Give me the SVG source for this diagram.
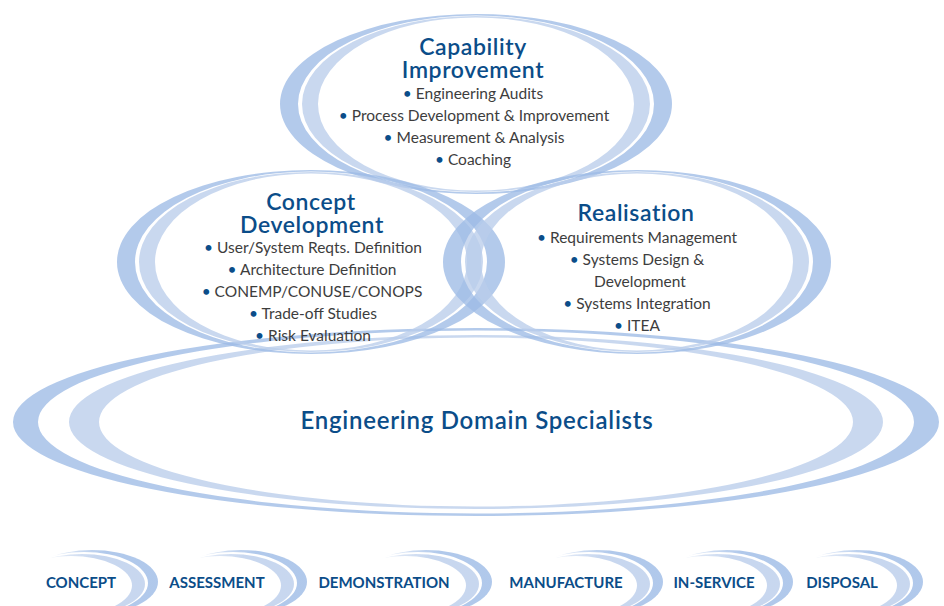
<svg xmlns="http://www.w3.org/2000/svg" width="944" height="606" viewBox="0 0 944 606">
<style>
.dark{fill:#9dbbe6;fill-opacity:0.78;fill-rule:evenodd}
.light{fill:#bacdeb;fill-opacity:0.78;fill-rule:evenodd}
.title{font-family:Lato,"Liberation Sans",sans-serif;font-weight:600;font-size:23px;letter-spacing:0.6px;fill:#0b4d89;text-anchor:middle}
.item{font-family:Lato,"Liberation Sans",sans-serif;font-size:15.5px;fill:#3d3d3d;text-anchor:middle}
.b{fill:#0b4d89}
.eds{font-family:Lato,"Liberation Sans",sans-serif;font-weight:600;font-size:24px;letter-spacing:0.75px;fill:#0b4d89;text-anchor:middle}
.phase{font-family:Lato,"Liberation Sans",sans-serif;font-weight:700;font-size:15px;fill:#0b4d89;text-anchor:middle}
</style>
<defs>
<linearGradient id="gD" x1="0" y1="0" x2="1" y2="0">
<stop offset="0" stop-color="#9dbbe6" stop-opacity="0"/>
<stop offset="0.6" stop-color="#9dbbe6" stop-opacity="0.8"/>
<stop offset="1" stop-color="#9dbbe6" stop-opacity="0.8"/>
</linearGradient>
<linearGradient id="gL" x1="0" y1="0" x2="1" y2="0">
<stop offset="0" stop-color="#bacdeb" stop-opacity="0"/>
<stop offset="0.6" stop-color="#bacdeb" stop-opacity="0.8"/>
<stop offset="1" stop-color="#bacdeb" stop-opacity="0.8"/>
</linearGradient>
<mask id="mD" maskUnits="userSpaceOnUse" x="-220" y="500" width="300" height="150">
<rect x="-220" y="500" width="300" height="150" fill="#fff"/>
<ellipse cx="-74" cy="583" rx="64" ry="31" fill="#000"/>
</mask>
<mask id="mL" maskUnits="userSpaceOnUse" x="-220" y="500" width="300" height="150">
<rect x="-220" y="500" width="300" height="150" fill="#fff"/>
<ellipse cx="-87" cy="585.5" rx="61" ry="29.5" fill="#000"/>
</mask>
<g id="arc">
<ellipse cx="-66" cy="582" rx="66" ry="32" fill="url(#gD)" mask="url(#mD)"/>
<ellipse cx="-76" cy="584" rx="63" ry="30" fill="url(#gL)" mask="url(#mL)"/>
</g>
</defs>
<rect width="944" height="606" fill="#fff"/>

<g id="rings">
<!-- Engineering Domain Specialists -->
<path class="dark" d="M13,422 a463,94 0 1,0 926,0 a463,94 0 1,0 -926,0 Z M38,422 a438,91.5 0 1,0 876,0 a438,91.5 0 1,0 -876,0 Z"/>
<path class="light" d="M69,422 a407,87 0 1,0 814,0 a407,87 0 1,0 -814,0 Z M99,422 a377,84.5 0 1,0 754,0 a377,84.5 0 1,0 -754,0 Z"/>
<!-- Capability -->
<path class="dark" d="M280,104 a196,90 0 1,0 392,0 a196,90 0 1,0 -392,0 Z M298,104 a178,88.5 0 1,0 356,0 a178,88.5 0 1,0 -356,0 Z"/>
<path class="light" d="M302,104 a174,88 0 1,0 348,0 a174,88 0 1,0 -348,0 Z M318,104 a158,86.5 0 1,0 316,0 a158,86.5 0 1,0 -316,0 Z"/>
<!-- Concept -->
<path class="dark" d="M117,262 a194,92 0 1,0 388,0 a194,92 0 1,0 -388,0 Z M135,262 a176,90.5 0 1,0 352,0 a176,90.5 0 1,0 -352,0 Z"/>
<path class="light" d="M139,262 a172,90 0 1,0 344,0 a172,90 0 1,0 -344,0 Z M155,262 a156,88.5 0 1,0 312,0 a156,88.5 0 1,0 -312,0 Z"/>
<!-- Realisation -->
<path class="dark" d="M443,262 a194,92 0 1,0 388,0 a194,92 0 1,0 -388,0 Z M461,262 a176,90.5 0 1,0 352,0 a176,90.5 0 1,0 -352,0 Z"/>
<path class="light" d="M465,262 a172,90 0 1,0 344,0 a172,90 0 1,0 -344,0 Z M481,262 a156,88.5 0 1,0 312,0 a156,88.5 0 1,0 -312,0 Z"/>
</g>

<g id="node-capability">
<text class="title" x="473" y="55">Capability</text>
<text class="title" x="473" y="78">Improvement</text>
<text class="item" x="473" y="99"><tspan class="b">•</tspan> Engineering Audits</text>
<text class="item" x="474" y="121"><tspan class="b">•</tspan> Process Development &amp; Improvement</text>
<text class="item" x="474" y="143"><tspan class="b">•</tspan> Measurement &amp; Analysis</text>
<text class="item" x="473" y="165"><tspan class="b">•</tspan> Coaching</text>
</g>

<g id="node-concept">
<text class="title" x="311" y="210">Concept</text>
<text class="title" x="312" y="233">Development</text>
<text class="item" x="313" y="253"><tspan class="b">•</tspan> User/System Reqts. Definition</text>
<text class="item" x="312" y="275"><tspan class="b">•</tspan> Architecture Definition</text>
<text class="item" x="312" y="297"><tspan class="b">•</tspan> CONEMP/CONUSE/CONOPS</text>
<text class="item" x="313" y="319"><tspan class="b">•</tspan> Trade-off Studies</text>
<text class="item" x="313" y="341"><tspan class="b">•</tspan> Risk Evaluation</text>
</g>

<g id="node-realisation">
<text class="title" x="636" y="221">Realisation</text>
<text class="item" x="637" y="243"><tspan class="b">•</tspan> Requirements Management</text>
<text class="item" x="637" y="265"><tspan class="b">•</tspan> Systems Design &amp;</text>
<text class="item" x="640" y="287">Development</text>
<text class="item" x="637" y="309"><tspan class="b">•</tspan> Systems Integration</text>
<text class="item" x="637" y="331"><tspan class="b">•</tspan> ITEA</text>
</g>

<g id="node-eds">
<text class="eds" x="477" y="429">Engineering Domain Specialists</text>
</g>

<g id="phase-concept"><use href="#arc" x="158"/><text class="phase" x="81" y="588">CONCEPT</text></g>
<g id="phase-assessment"><use href="#arc" x="307"/><text class="phase" x="217" y="588">ASSESSMENT</text></g>
<g id="phase-demonstration"><use href="#arc" x="492"/><text class="phase" x="384" y="588">DEMONSTRATION</text></g>
<g id="phase-manufacture"><use href="#arc" x="663"/><text class="phase" x="566" y="588">MANUFACTURE</text></g>
<g id="phase-inservice"><use href="#arc" x="793"/><text class="phase" x="714" y="588">IN-SERVICE</text></g>
<g id="phase-disposal"><use href="#arc" x="923"/><text class="phase" x="842" y="588">DISPOSAL</text></g>

<g id="connectors"/>
</svg>
